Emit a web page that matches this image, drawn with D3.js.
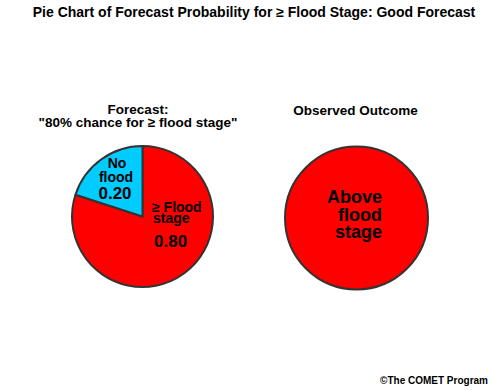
<!DOCTYPE html>
<html>
<head>
<meta charset="utf-8">
<title>Pie Chart of Forecast Probability</title>
<style>
	body { margin: 0; background: #fff; }
	svg { display: block; font-family: "Liberation Sans", Arial, sans-serif; font-weight: bold; }
</style>
<script src="https://d3js.org/d3.v7.min.js"></script>
</head>
<body>
<svg id="chart" width="497" height="391"></svg>
<script>
// data
const forecastCats = ['≥ Flood stage', 'No flood'];
const forecastValues = [0.80, 0.20];
const forecastColors = ['#ff0000', '#00ccff'];
const observedCats = ['Above flood stage'];
const observedValues = [1];
const observedColors = ['#ff0000'];

const svg = d3.select('#chart');

svg.append('text')
	.attr('x', 254).attr('y', 17)
	.attr('text-anchor', 'middle')
	.attr('font-size', 14)
	.text('Pie Chart of Forecast Probability for ≥ Flood Stage: Good Forecast');

const pie = d3.pie().sort(null);
const r = 70.5;
const arc = d3.arc().innerRadius(0).outerRadius(r);

// forecast pie
const gF = svg.append('g').attr('transform', 'translate(142.5,216.5)');
gF.selectAll('path')
	.data(pie(forecastValues))
	.join('path')
	.attr('d', arc)
	.attr('fill', (d, i) => forecastColors[i])
	.attr('stroke', '#333')
	.attr('stroke-width', 2)
	.attr('stroke-linejoin', 'round');

const fTitle = svg.append('text').attr('text-anchor', 'middle').attr('font-size', 13.5);
fTitle.append('tspan').attr('x', 138).attr('y', 114).text('Forecast:');
fTitle.append('tspan').attr('x', 138).attr('y', 127).text('"80% chance for ≥ flood stage"');

// labels inside forecast pie
const redLbl = svg.append('text').attr('font-size', 14);
redLbl.append('tspan').attr('x', 152).attr('y', 212).text('≥ Flood');
redLbl.append('tspan').attr('x', 153).attr('y', 223).text('stage');
svg.append('text').attr('x', 154).attr('y', 247).attr('font-size', 17)
	.text(forecastValues[0].toFixed(2));

const blueLbl = svg.append('text').attr('text-anchor', 'middle').attr('font-size', 14);
blueLbl.append('tspan').attr('x', 117).attr('y', 168).text('No');
blueLbl.append('tspan').attr('x', 116).attr('y', 182).text('flood');
svg.append('text').attr('x', 115).attr('y', 199).attr('text-anchor', 'middle').attr('font-size', 17)
	.text(forecastValues[1].toFixed(2));

// observed pie
const gO = svg.append('g').attr('transform', 'translate(356.5,218)');
gO.selectAll('path')
	.data(pie(observedValues))
	.join('path')
	.attr('d', d3.arc().innerRadius(0).outerRadius(71.5))
	.attr('fill', (d, i) => observedColors[i])
	.attr('stroke', '#333')
	.attr('stroke-width', 2);

svg.append('text')
	.attr('x', 355.5).attr('y', 115)
	.attr('text-anchor', 'middle')
	.attr('font-size', 13.5)
	.text('Observed Outcome');

const oLbl = svg.append('text').attr('text-anchor', 'end').attr('font-size', 18);
['Above', 'flood', 'stage'].forEach((w, i) => {
	oLbl.append('tspan').attr('x', 382).attr('y', 203 + i * 17.5).text(w);
});

svg.append('text')
	.attr('x', 488).attr('y', 384)
	.attr('text-anchor', 'end')
	.attr('font-size', 10)
	.text('©The COMET Program');
</script>
</body>
</html>
